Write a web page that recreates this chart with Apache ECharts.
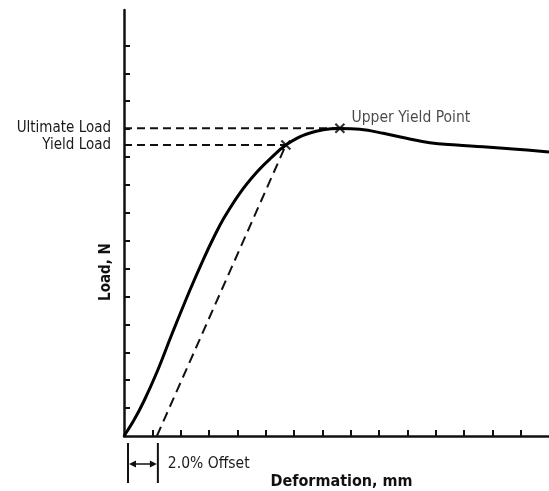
<!DOCTYPE html>
<html>
<head>
<meta charset="utf-8">
<script src="https://cdn.jsdelivr.net/npm/echarts@6/dist/echarts.min.js"></script>
<style>
html,body{margin:0;padding:0;background:#fff;}
#c{width:549px;height:491px;}
</style>
</head>
<body>
<div id="c"></div>
<script>
// ---- data ----
const deformation = [0, 0.353, 0.705, 1.164, 1.693, 2.328, 2.822, 3.175, 3.527, 4.092, 4.691, 5.185, 5.714, 6.455, 7.619, 8.325, 9.15, 9.97, 10.79, 11.74, 12.67, 13.85, 15.0];
const load =        [0, 0.573, 1.255, 2.294, 3.656, 5.233, 6.380, 7.133, 7.814, 8.710, 9.462, 9.964, 10.430, 10.824, 11.022, 10.993, 10.85, 10.67, 10.51, 10.43, 10.37, 10.28, 10.18];
const yieldPoint = [5.714, 10.43];
const upperYieldPoint = [7.619, 11.03];
const offsetStart = 1.16;
const xTicks = [1,2,3,4,5,6,7,8,9,10,11,12,13,14];
const yTicks = [1,2,3,4,5,6,7,8,9,10,11,12,13,14];
const yLabelValues = [upperYieldPoint[1], yieldPoint[1]];
const yLabelTexts = ['Ultimate Load', 'Yield Load'];
const xMax = 15, yMax = 15.27;

const FONT = '"DejaVu Sans Condensed", "DejaVu Sans", sans-serif';
const chart = echarts.init(document.getElementById('c'), null, {renderer: 'canvas'});

const curve = deformation.map((d, i) => [d, load[i]]);

chart.setOption({
  animation: false,
  backgroundColor: '#fff',
  grid: {left: 124, right: 0, top: 10, bottom: 55, containLabel: false, outerBoundsMode: 'none'},
  xAxis: {
    type: 'value', min: 0, max: xMax,
    name: 'Deformation, mm', nameLocation: 'middle', nameGap: 38,
    nameTextStyle: {fontFamily: FONT, fontWeight: 'bold', fontSize: 16, color: '#111', padding: [0, 0, 0, 10]},
    axisLine: {show: true, onZero: false, lineStyle: {color: '#111', width: 2.5}},
    axisTick: {show: true, inside: true, length: 6, customValues: xTicks, lineStyle: {color: '#111', width: 2}},
    axisLabel: {show: false},
    splitLine: {show: false}
  },
  yAxis: {
    type: 'value', min: 0, max: yMax,
    axisLine: {show: true, onZero: false, lineStyle: {color: '#111', width: 2.5}},
    axisTick: {show: true, inside: true, length: 6, customValues: yTicks, lineStyle: {color: '#111', width: 2}},
    axisLabel: {
      show: true, customValues: yLabelValues, margin: 13,
      fontFamily: FONT, fontSize: 15, color: '#1a1a1a',
      formatter: function (v) {
        const i = yLabelValues.findIndex(t => Math.abs(t - v) < 1e-6);
        return i >= 0 ? yLabelTexts[i] : '';
      }
    },
    splitLine: {show: false}
  },
  series: [
    {
      type: 'line', data: [[0, upperYieldPoint[1]], upperYieldPoint], showSymbol: false, silent: true,
      lineStyle: {color: '#111', width: 2, type: [8, 5]}
    },
    {
      type: 'line', data: [[0, yieldPoint[1]], yieldPoint], showSymbol: false, silent: true,
      lineStyle: {color: '#111', width: 2, type: [8, 5]}
    },
    {
      type: 'line', data: [[offsetStart, 0], yieldPoint], showSymbol: false, silent: true,
      lineStyle: {color: '#111', width: 2, type: [10, 6]}
    },
    {
      type: 'line', data: curve, showSymbol: false, smooth: 0.4, silent: true,
      lineStyle: {color: '#000', width: 3}
    },
    {
      type: 'scatter', data: [yieldPoint, upperYieldPoint], symbol: 'path://M0,0L10,10M10,0L0,10',
      symbolSize: 9, silent: true,
      itemStyle: {color: 'rgba(0,0,0,0)', borderColor: '#000', borderWidth: 2.2},
      label: {
        show: true, position: 'right', distance: 6, offset: [0, -10],
        fontFamily: FONT, fontSize: 15.5, color: '#1a1a1a',
        formatter: function (p) { return p.dataIndex === 1 ? 'Upper Yield Point' : ''; }
      }
    }
  ]
});

// annotations positioned from the axes
const o = chart.convertToPixel({gridIndex: 0}, [0, 0]);
const s = chart.convertToPixel({gridIndex: 0}, [offsetStart, 0]);
const xl = o[0] + 4, xr = s[0] + 1;
const ay = o[1] + 28;
chart.setOption({
  graphic: [
    {type: 'line', shape: {x1: xl, y1: o[1] + 7, x2: xl, y2: o[1] + 47}, style: {stroke: '#111', lineWidth: 2}},
    {type: 'line', shape: {x1: xr, y1: o[1] + 7, x2: xr, y2: o[1] + 47}, style: {stroke: '#111', lineWidth: 2}},
    {type: 'line', shape: {x1: xl + 5, y1: ay, x2: xr - 5, y2: ay}, style: {stroke: '#111', lineWidth: 1.5}},
    {type: 'polygon', shape: {points: [[xl + 1, ay], [xl + 8, ay - 3.5], [xl + 8, ay + 3.5]]}, style: {fill: '#111'}},
    {type: 'polygon', shape: {points: [[xr - 1, ay], [xr - 8, ay - 3.5], [xr - 8, ay + 3.5]]}, style: {fill: '#111'}},
    {type: 'text', x: xr + 10, y: ay, style: {text: '2.0% Offset', font: '15.5px ' + FONT, fill: '#1a1a1a', textVerticalAlign: 'middle', textAlign: 'left'}},
    {type: 'text', x: 106, y: 272, rotation: Math.PI / 2, style: {text: 'Load, N', font: 'bold 15px ' + FONT, fill: '#111', textVerticalAlign: 'middle', textAlign: 'center'}}
  ]
});
</script>
</body>
</html>
